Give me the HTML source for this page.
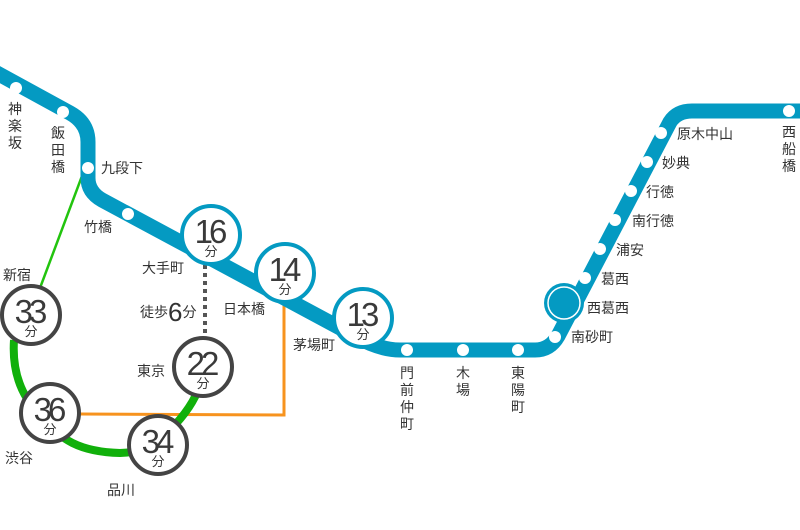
<!DOCTYPE html>
<html><head><meta charset="utf-8"><style>
html,body{margin:0;padding:0;background:#fff;}
svg{display:block;}
text{font-family:"Liberation Sans","Noto Sans CJK JP",sans-serif;fill:#333;}
.s{font-size:14px;}
.n{font-size:33px;letter-spacing:-4px;fill:#3a3a3a;}
.f{font-size:13px;fill:#3a3a3a;}
</style></head><body>
<svg width="800" height="530" viewBox="0 0 800 530" xmlns="http://www.w3.org/2000/svg">
<line x1="82" y1="176" x2="40" y2="288" stroke="#22c40e" stroke-width="2.5"/>
<polyline points="284,300 284,415 80,414" fill="none" stroke="#f7931e" stroke-width="3"/>
<line x1="205" y1="265" x2="205" y2="335" stroke="#555" stroke-width="4" stroke-dasharray="4,4"/>
<path d="M14,340 C12,370 20,395 40,415 C60,440 80,452 120,453 L150,451" fill="none" stroke="#11b00b" stroke-width="8"/>
<path d="M170,430 C185,415 195,400 200,385" fill="none" stroke="#11b00b" stroke-width="8"/>
<path d="M-5,72 L70,113 Q88,123 88,142 L88,178 Q88,192 102,200 L355,336 Q380,350 400,350 L535,350 Q550,350 558,336 L670,122 Q677,111 692,111 L805,111" fill="none" stroke="#049ac2" stroke-width="15" stroke-linejoin="round"/>
<g fill="#fff">
<circle cx="16" cy="88" r="6"/><circle cx="63" cy="112" r="6"/><circle cx="88" cy="168" r="6"/><circle cx="128" cy="214" r="6"/>
<circle cx="407" cy="350" r="6"/><circle cx="463" cy="350" r="6"/><circle cx="518" cy="350" r="6"/>
<circle cx="555" cy="337" r="6"/><circle cx="585" cy="278" r="6"/><circle cx="600" cy="249" r="6"/><circle cx="615" cy="220" r="6"/><circle cx="631" cy="191" r="6"/><circle cx="647" cy="162" r="6"/><circle cx="661" cy="133" r="6"/><circle cx="789" cy="111" r="6"/>
</g>
<circle cx="564" cy="303" r="20" fill="#049ac2"/>
<circle cx="564" cy="303" r="16" fill="none" stroke="#fff" stroke-width="1.5"/>
<g fill="#fff" stroke="#049ac2" stroke-width="4">
<circle cx="211" cy="235" r="29"/><circle cx="285" cy="273" r="29"/><circle cx="363" cy="318" r="29"/>
</g>
<g fill="#fff" stroke="#444" stroke-width="4">
<circle cx="31" cy="315" r="29"/><circle cx="50" cy="413" r="29"/><circle cx="158" cy="445" r="29"/><circle cx="203" cy="367" r="29"/>
</g>
<g text-anchor="middle">
<text class="n" x="209" y="243">16</text><text class="f" x="211" y="256">分</text>
<text class="n" x="283" y="281">14</text><text class="f" x="285" y="294">分</text>
<text class="n" x="361" y="326">13</text><text class="f" x="363" y="339">分</text>
<text class="n" x="29" y="323">33</text><text class="f" x="31" y="336">分</text>
<text class="n" x="48" y="421">36</text><text class="f" x="50" y="434">分</text>
<text class="n" x="156" y="453">34</text><text class="f" x="158" y="466">分</text>
<text class="n" x="201" y="375">22</text><text class="f" x="203" y="388">分</text>
</g>
<g class="s" text-anchor="middle">
<text x="15" y="114">神</text><text x="15" y="131">楽</text><text x="15" y="148">坂</text>
<text x="58" y="138">飯</text><text x="58" y="155">田</text><text x="58" y="172">橋</text>
<text x="407" y="378">門</text><text x="407" y="395">前</text><text x="407" y="412">仲</text><text x="407" y="429">町</text>
<text x="463" y="378">木</text><text x="463" y="395">場</text>
<text x="518" y="378">東</text><text x="518" y="395">陽</text><text x="518" y="412">町</text>
<text x="789" y="137">西</text><text x="789" y="154">船</text><text x="789" y="171">橋</text>
</g>
<g class="s">
<text x="101" y="173">九段下</text>
<text x="84" y="232">竹橋</text>
<text x="142" y="273">大手町</text>
<text x="140" y="317">徒歩<tspan font-size="26" dy="4">6</tspan><tspan dy="-4">分</tspan></text>
<text x="223" y="314">日本橋</text>
<text x="293" y="350">茅場町</text>
<text x="3" y="280">新宿</text>
<text x="137" y="376">東京</text>
<text x="5" y="463">渋谷</text>
<text x="107" y="495">品川</text>
<text x="677" y="139">原木中山</text>
<text x="662" y="168">妙典</text>
<text x="646" y="197">行徳</text>
<text x="632" y="226">南行徳</text>
<text x="616" y="255">浦安</text>
<text x="601" y="284">葛西</text>
<text x="587" y="313">西葛西</text>
<text x="571" y="342">南砂町</text>
</g>
</svg>
</body></html>
